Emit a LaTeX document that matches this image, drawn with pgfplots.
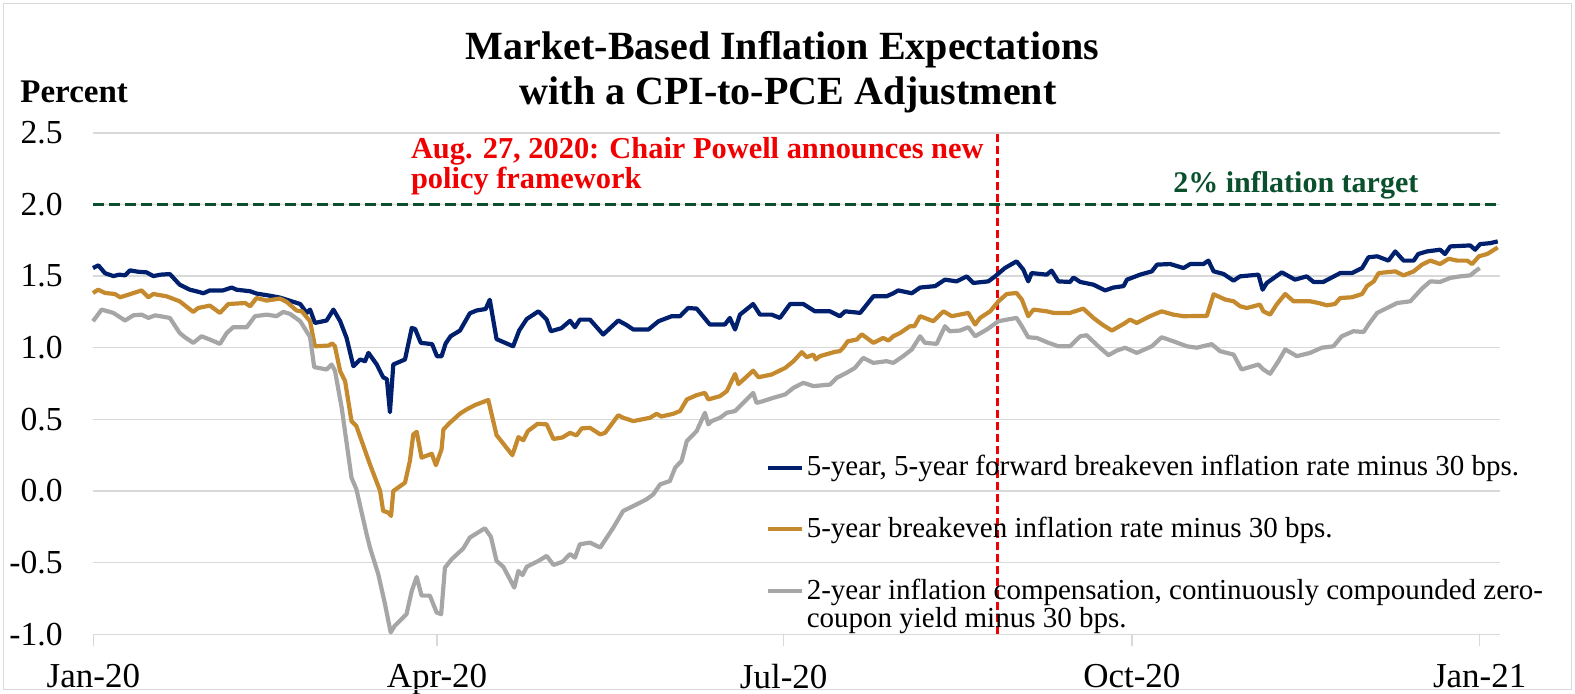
\documentclass[border=0pt]{standalone}
\usepackage{fontspec}
\setmainfont{Liberation Serif}
\usepackage{pgfplots}
\pgfplotsset{compat=1.18}
\definecolor{navy}{RGB}{0,32,110}
\definecolor{gold}{RGB}{197,138,46}
\definecolor{lgray}{RGB}{166,166,166}
\definecolor{dgreen}{RGB}{10,80,45}
\definecolor{gridc}{RGB}{217,217,217}
\definecolor{annred}{RGB}{240,0,0}

\pgfplotstableread{
x y
0.0 1.556
1.4 1.575
3.2 1.52
5.4 1.50
7.0 1.51
8.5 1.505
9.8 1.54
12.0 1.53
14.2 1.526
16.0 1.50
18.0 1.51
20.4 1.514
23.0 1.44
25.7 1.405
28.0 1.39
29.3 1.38
31.0 1.40
34.5 1.40
36.8 1.42
38.1 1.405
41.7 1.394
43.4 1.378
46.5 1.365
49.6 1.35
52.0 1.33
55.0 1.305
56.7 1.243
57.6 1.266
58.9 1.173
62.0 1.19
63.8 1.266
65.6 1.185
67.3 1.068
69.1 0.871
70.9 0.918
72.2 0.906
73.1 0.964
75.3 0.883
77.0 0.794
78.0 0.78
78.8 0.55
79.7 0.883
82.8 0.918
84.6 1.138
85.5 1.13
87.0 1.034
90.0 1.025
91.3 0.94
92.5 0.94
93.6 1.03
94.9 1.08
97.4 1.12
100.0 1.24
101.8 1.26
104.2 1.27
105.3 1.335
107.1 1.06
111.5 1.01
113.1 1.12
115.1 1.20
118.2 1.254
120.4 1.196
121.5 1.115
124.3 1.136
126.6 1.188
127.9 1.143
129.2 1.196
131.9 1.196
135.4 1.092
139.4 1.19
141.5 1.16
143.4 1.127
147.4 1.127
150.1 1.185
153.6 1.22
155.8 1.22
157.9 1.277
160.2 1.273
163.7 1.162
167.7 1.162
169.0 1.208
170.4 1.127
171.7 1.231
175.2 1.305
177.0 1.231
180.1 1.231
182.3 1.208
185.0 1.305
188.5 1.305
191.6 1.254
195.6 1.254
198.2 1.22
199.6 1.254
203.6 1.243
207.1 1.359
210.6 1.359
212.4 1.38
213.7 1.40
217.3 1.38
219.5 1.42
223.5 1.43
226.1 1.475
229.2 1.463
231.9 1.498
233.6 1.452
237.6 1.463
239.4 1.498
242.0 1.556
245.1 1.603
246.9 1.545
248.2 1.463
249.1 1.521
253.1 1.51
254.4 1.538
256.2 1.463
259.3 1.459
260.2 1.49
262.0 1.459
265.5 1.44
268.6 1.40
270.8 1.42
273.5 1.43
274.4 1.475
277.9 1.51
281.0 1.533
282.4 1.58
285.9 1.584
289.4 1.556
291.2 1.584
294.7 1.584
296.0 1.608
297.4 1.533
300.0 1.515
302.7 1.468
304.4 1.498
309.3 1.51
310.4 1.405
311.5 1.452
315.5 1.526
319.0 1.475
322.1 1.498
323.9 1.459
326.5 1.459
331.0 1.521
334.1 1.521
336.8 1.556
338.5 1.631
340.8 1.638
343.8 1.608
345.6 1.672
347.8 1.608
350.5 1.608
351.7 1.654
354.0 1.672
357.5 1.684
358.8 1.654
360.2 1.707
365.5 1.714
366.8 1.684
368.1 1.723
370.8 1.73
372.8 1.742
}\fivefive

\pgfplotstableread{
x y
0.0 1.382
1.4 1.405
3.2 1.382
5.8 1.375
7.2 1.352
8.9 1.366
12.9 1.40
14.7 1.352
16.0 1.375
19.5 1.359
23.0 1.324
26.6 1.25
27.9 1.277
31.0 1.294
33.7 1.243
35.9 1.305
40.4 1.312
41.7 1.289
43.4 1.347
46.1 1.329
49.6 1.343
51.4 1.32
54.0 1.26
55.4 1.254
57.6 1.185
58.9 1.01
62.5 1.015
63.5 1.03
64.2 1.01
65.6 0.836
66.9 0.767
68.6 0.488
69.9 0.453
73.5 0.186
76.2 0.0
77.0 -0.139
78.4 -0.151
79.1 -0.174
79.7 0.0
82.8 0.058
84.1 0.21
85.0 0.395
85.9 0.413
87.2 0.233
89.9 0.26
91.0 0.18
92.5 0.291
93.0 0.43
94.7 0.476
97.4 0.54
99.2 0.57
101.4 0.60
104.9 0.635
107.1 0.39
111.3 0.25
112.9 0.376
114.2 0.354
115.4 0.418
118.0 0.469
120.4 0.465
122.2 0.363
124.6 0.374
126.6 0.406
128.3 0.388
129.7 0.437
131.9 0.441
134.6 0.395
135.9 0.406
139.4 0.529
140.7 0.511
143.4 0.488
147.8 0.511
149.6 0.539
150.8 0.52
154.0 0.539
155.8 0.558
157.6 0.639
160.2 0.669
162.4 0.685
163.3 0.639
166.4 0.662
168.2 0.697
170.4 0.817
171.3 0.746
175.2 0.84
176.6 0.794
180.1 0.813
183.7 0.859
185.9 0.906
188.1 0.969
189.4 0.934
191.2 0.952
191.8 0.918
192.9 0.941
196.9 0.971
198.2 0.976
199.1 1.0
200.3 1.045
202.7 1.057
204.0 1.094
207.1 1.034
209.7 1.068
211.1 1.05
212.4 1.08
214.2 1.103
216.8 1.15
218.0 1.15
219.5 1.22
223.0 1.185
225.7 1.254
227.9 1.22
232.3 1.243
234.1 1.162
235.4 1.208
238.1 1.254
240.3 1.324
242.5 1.375
245.1 1.382
246.5 1.336
248.2 1.22
249.6 1.266
253.1 1.254
254.9 1.243
259.3 1.243
262.8 1.273
265.5 1.208
268.1 1.157
270.4 1.12
273.5 1.166
275.2 1.196
277.0 1.173
280.5 1.22
283.6 1.254
286.7 1.231
289.4 1.22
295.6 1.222
297.4 1.373
300.5 1.336
302.7 1.324
304.4 1.29
306.2 1.277
309.7 1.301
310.6 1.254
312.4 1.231
314.1 1.301
316.4 1.375
318.6 1.324
323.0 1.324
325.3 1.312
327.4 1.296
329.6 1.305
331.0 1.347
334.1 1.352
336.8 1.375
338.1 1.43
339.9 1.463
341.2 1.521
345.6 1.533
347.8 1.505
350.5 1.533
352.7 1.58
354.9 1.608
357.5 1.584
359.8 1.621
362.0 1.608
364.7 1.608
366.0 1.584
367.8 1.638
370.0 1.654
372.8 1.70
}\fiveyr

\pgfplotstableread{
x y
0.0 1.185
2.3 1.266
5.4 1.243
8.5 1.19
10.7 1.226
12.9 1.231
14.7 1.208
16.5 1.226
20.4 1.208
23.0 1.103
24.4 1.073
26.6 1.034
28.8 1.08
31.0 1.057
33.7 1.027
35.5 1.103
37.2 1.143
40.8 1.143
43.0 1.22
46.1 1.231
48.7 1.22
50.5 1.25
52.3 1.236
55.0 1.185
57.6 1.075
58.7 0.865
62.0 0.848
63.3 0.883
64.2 0.841
66.0 0.581
68.6 0.093
69.9 0.012
72.6 -0.30
73.5 -0.395
75.7 -0.58
77.5 -0.79
79.0 -0.987
80.1 -0.94
83.2 -0.86
84.6 -0.697
85.9 -0.60
87.2 -0.73
89.4 -0.73
91.2 -0.848
92.4 -0.86
93.4 -0.535
95.2 -0.476
98.3 -0.40
100.0 -0.325
104.0 -0.26
105.6 -0.32
107.1 -0.488
108.9 -0.529
111.8 -0.674
112.9 -0.558
114.0 -0.587
115.1 -0.529
118.2 -0.488
120.4 -0.453
122.2 -0.516
124.6 -0.494
126.6 -0.44
127.9 -0.465
129.2 -0.372
131.9 -0.36
134.6 -0.395
138.1 -0.255
140.7 -0.139
143.4 -0.105
146.9 -0.058
148.7 -0.023
150.5 0.046
153.1 0.07
154.5 0.163
156.2 0.21
157.6 0.349
160.2 0.418
162.4 0.546
163.3 0.465
164.2 0.488
166.4 0.511
168.2 0.546
170.4 0.558
175.2 0.685
176.1 0.615
177.8 0.627
180.5 0.65
183.7 0.674
185.9 0.72
188.5 0.755
191.2 0.732
195.6 0.743
197.4 0.79
200.0 0.825
202.2 0.859
204.4 0.929
207.1 0.894
210.6 0.906
212.4 0.894
215.0 0.941
217.3 0.988
219.5 1.08
220.8 1.034
223.9 1.027
226.1 1.15
227.4 1.115
230.1 1.12
232.3 1.143
234.1 1.08
237.2 1.127
240.3 1.185
242.5 1.196
245.1 1.208
246.5 1.15
248.2 1.073
250.5 1.068
253.6 1.034
256.2 1.01
259.3 1.01
262.0 1.08
263.7 1.087
266.8 1.01
269.5 0.948
271.7 0.98
273.9 1.0
277.0 0.964
281.0 1.01
283.6 1.073
286.7 1.045
290.3 1.01
292.9 1.0
296.9 1.025
299.1 0.976
301.5 0.96
302.7 0.952
304.8 0.848
309.3 0.883
310.6 0.848
312.4 0.818
314.6 0.906
316.4 0.988
319.5 0.941
323.0 0.964
326.1 1.0
329.2 1.01
331.4 1.08
334.5 1.115
337.2 1.11
338.5 1.162
340.8 1.243
343.4 1.277
346.1 1.312
349.6 1.324
352.7 1.413
354.9 1.463
357.5 1.459
360.2 1.487
362.8 1.498
365.5 1.505
366.8 1.533
368.0 1.556
}\twoyr

\begin{document}
\begin{tikzpicture}
\begin{axis}[
  scale only axis, width=703.5pt, height=250.75pt,
  xmin=0, xmax=373.4, ymin=-1, ymax=2.5,
  clip=false,
  axis x line*=bottom, axis y line*=left,
  x axis line style={gridc, line width=0.75pt},
  y axis line style={draw=none},
  ytick={-1,-0.5,0,0.5,1,1.5,2,2.5},
  yticklabels={-1.0,-0.5,0.0,0.5,1.0,1.5,2.0,2.5},
  xtick={0.1,91.3,183.3,275.7,368.0},
  xticklabels={Jan-20,Apr-20,Jul-20,Oct-20,Jan-21},
  ymajorgrids, grid style={gridc, line width=0.75pt},
  tick align=outside, major tick length=6pt,
  xtick style={gridc, line width=0.75pt},
  ytick style={draw=none},
  xticklabel style={font=\fontsize{17.5}{20}\selectfont, inner sep=0pt, anchor=north, yshift=-9pt},
  yticklabel style={font=\fontsize{16.8}{20}\selectfont, inner sep=0pt, anchor=east, xshift=-9pt},
  legend style={at={(axis cs:178.5,0.245)}, anchor=north west, draw=none, fill=none,
    inner sep=0pt, outer sep=0pt, row sep=17.6pt, column sep=1.6pt,
    font=\fontsize{14.5}{14}\selectfont,
    nodes={inner sep=0pt, text height=10pt, text depth=3.2pt}},
  legend cell align=left,
  legend image code/.code={\draw[#1, line width=2pt] (0pt,0.8pt) -- (17pt,0.8pt);},
]
\addplot[annred, line width=1.3pt, dash pattern=on 4pt off 2pt, forget plot] coordinates {(240.1,-1) (240.1,2.5)};
\addplot[dgreen, line width=1.9pt, dash pattern=on 5.5pt off 2.5pt, forget plot] coordinates {(0,2) (373.4,2)};

\addplot[navy, line width=2.1pt, line join=round] table[x=x,y=y] {\fivefive};
\addlegendentry{5-year, 5-year forward breakeven inflation rate minus 30 bps.}
\addplot[gold, line width=2.1pt, line join=round] table[x=x,y=y] {\fiveyr};
\addlegendentry{5-year breakeven inflation rate minus 30 bps.}
\addplot[lgray, line width=2.1pt, line join=round] table[x=x,y=y] {\twoyr};
\addlegendentry{\vtop{\hbox{2-year inflation compensation, continuously compounded zero-}\hbox{coupon yield minus 30 bps.}}}

\node[anchor=base west, inner sep=0pt, text=annred, font=\bfseries\fontsize{15.2}{15}\selectfont] at (axis cs:84.3,2.322) {Aug. 27, 2020: Chair Powell announces new};
\node[anchor=base west, inner sep=0pt, text=annred, font=\bfseries\fontsize{15.2}{15}\selectfont] at (axis cs:84.3,2.112) {policy framework};
\node[anchor=base west, inner sep=0pt, text=dgreen, font=\bfseries\fontsize{15}{15}\selectfont] at (axis cs:286.6,2.080) {2\% inflation target};

\node[anchor=base, inner sep=0pt, font=\bfseries\fontsize{20}{22}\selectfont] at (rel axis cs:0.4901,1.1452) {Market-Based Inflation Expectations};
\node[anchor=base, inner sep=0pt, font=\bfseries\fontsize{20}{22}\selectfont] at (rel axis cs:0.494,1.0574) {with a CPI-to-PCE Adjustment};
\node[anchor=base west, inner sep=0pt, font=\bfseries\fontsize{16.5}{18}\selectfont] at (rel axis cs:-0.0519,1.0614) {Percent};
\end{axis}
\draw[gridc, line width=0.5pt] (-44.5pt,-27.85pt) rectangle (739pt,315.15pt);
\pgfresetboundingbox
\path[use as bounding box] (-46.5pt,-29.85pt) rectangle (741pt,317.15pt);
\end{tikzpicture}
\end{document}
